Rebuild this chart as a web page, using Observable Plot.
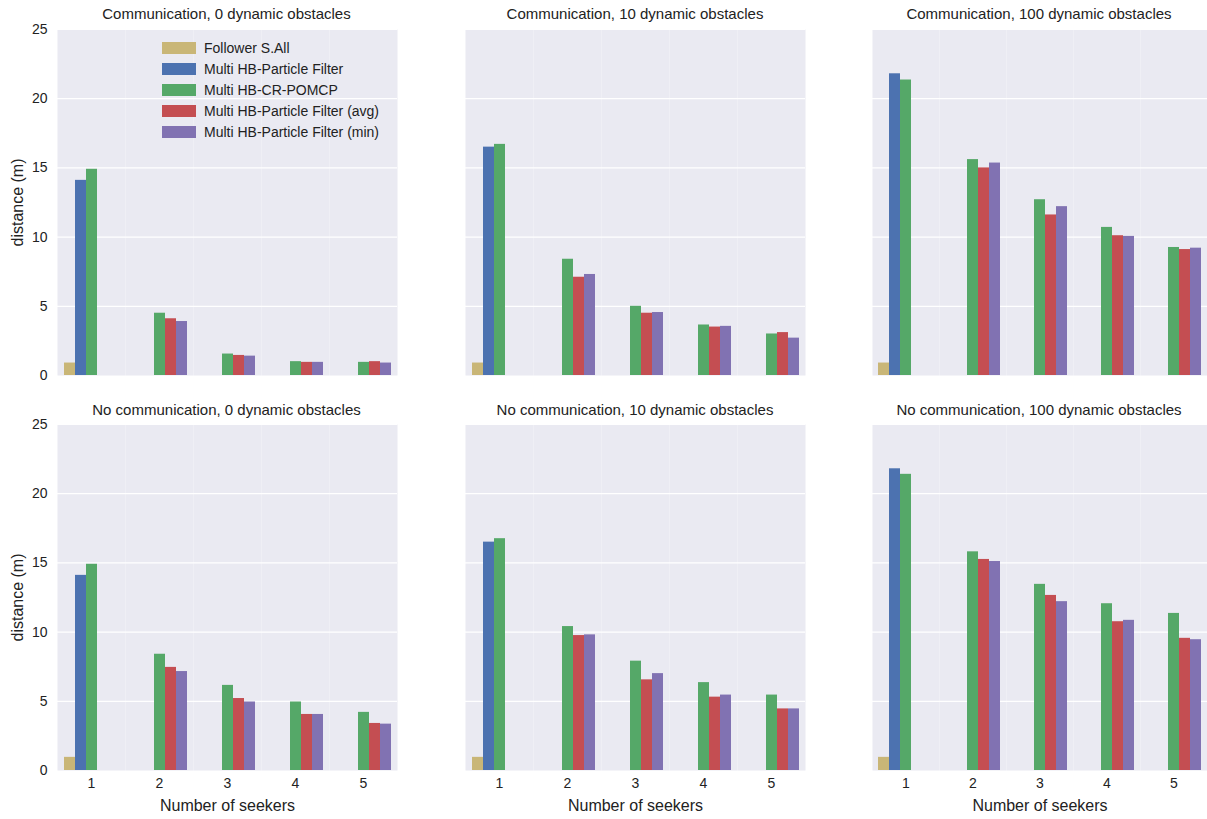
<!DOCTYPE html>
<html><head><meta charset="utf-8">
<script src="https://cdn.jsdelivr.net/npm/d3@7"></script>
<script src="https://cdn.jsdelivr.net/npm/@observablehq/plot@0.6"></script>
<style>
body{margin:0;background:#fff;font-family:"Liberation Sans",Arial,sans-serif;}
#wrap{position:relative;width:1207px;height:819px;}
.p{position:absolute;}
.p g[aria-label="fx-axis label"] text, .p g[aria-label="y-axis label"] text{font-size:16px;}
.t{position:absolute;font-size:15px;color:#222;text-align:center;white-space:nowrap;}
#legend{position:absolute;left:162px;top:37px;font-size:14px;color:#222;}
#legend div{height:21px;display:flex;align-items:center;}
#legend span{display:inline-block;width:34px;height:12px;margin-right:8px;}
</style></head><body>
<div id="wrap"></div>
<script>
const methods = ["Follower S.All","Multi HB-Particle Filter","Multi HB-CR-POMCP","Multi HB-Particle Filter (avg)","Multi HB-Particle Filter (min)"]
const colors = ["#C9B677","#4C72B0","#55A868","#C44E52","#8172B2"]
const seekers = [1,2,3,4,5]
const titles = ["Communication, 0 dynamic obstacles","Communication, 10 dynamic obstacles","Communication, 100 dynamic obstacles",
  "No communication, 0 dynamic obstacles","No communication, 10 dynamic obstacles","No communication, 100 dynamic obstacles"]
// per panel: [follower, PF, CR-POMCP, avg, min] over seekers 1..5
const comm0 = [[0.9,null,null,null,null],[14.1,null,null,null,null],[14.9,4.5,1.55,1.0,0.95],[null,4.1,1.45,0.95,1.0],[null,3.9,1.4,0.95,0.9]]
const comm10 = [[0.9,null,null,null,null],[16.5,null,null,null,null],[16.7,8.4,5.0,3.65,3.0],[null,7.1,4.5,3.5,3.1],[null,7.3,4.55,3.55,2.7]]
const comm100 = [[0.9,null,null,null,null],[21.8,null,null,null,null],[21.35,15.6,12.7,10.7,9.25],[null,15.0,11.6,10.1,9.1],[null,15.35,12.2,10.05,9.2]]
const nocomm0 = [[0.95,null,null,null,null],[14.1,null,null,null,null],[14.9,8.4,6.15,4.95,4.2],[null,7.45,5.2,4.05,3.4],[null,7.15,4.95,4.05,3.35]]
const nocomm10 = [[0.95,null,null,null,null],[16.5,null,null,null,null],[16.75,10.4,7.9,6.35,5.45],[null,9.75,6.55,5.3,4.45],[null,9.8,7.0,5.45,4.45]]
const nocomm100 = [[0.95,null,null,null,null],[21.8,null,null,null,null],[21.4,15.8,13.45,12.05,11.35],[null,15.25,12.65,10.75,9.55],[null,15.1,12.2,10.85,9.45]]
const panels = [comm0,comm10,comm100,nocomm0,nocomm10,nocomm100]

const wrap = document.getElementById("wrap")
const cols = [{left:0,ml:55,w:398},{left:403,ml:60,w:404},{left:811,ml:60,w:396}]
panels.forEach((vals,i) => {
  const c = cols[i%3], row = Math.floor(i/3)
  const rows = []
  vals.forEach((arr,m) => arr.forEach((v,s) => { if (v!=null) rows.push({seeker:seekers[s],method:methods[m],value:v}) }))
  const top = row===0 ? 0 : 400
  const mt = row===0 ? 29 : 24
  const h = row===0 ? 400 : 419
  const mb = row===0 ? 25 : 49
  const chart = Plot.plot({
    width:c.w, height:h, marginLeft:c.ml, marginRight:0, marginTop:mt, marginBottom:mb,
    style:{fontFamily:"Liberation Sans, Arial, sans-serif",fontSize:"14px",color:"#222",background:"transparent"},
    fx:{domain:seekers,padding:0,axis:row===1?"bottom":null,tickSize:0,tickPadding:8,label:"Number of seekers",labelAnchor:"center",labelOffset:40,labelArrow:"none"},
    x:{domain:methods,axis:null,paddingInner:0,paddingOuter:0.45},
    y:{domain:[0,25],ticks:[0,5,10,15,20,25],axis:i%3===0?"left":null,tickSize:0,tickPadding:10,label:"distance (m)",labelAnchor:"center",labelOffset:46,labelArrow:"none"},
    color:{domain:methods,range:colors},
    marks:[
      Plot.frame({fill:"#EAEAF2",stroke:null}),
      Plot.gridY({ticks:[5,10,15,20,25],stroke:"#fff",strokeOpacity:1,strokeWidth:1.2}),
      Plot.barY(rows,{fx:"seeker",x:"method",y:"value",fill:"method"})
    ]
  })
  chart.classList.add("p")
  chart.style.left=c.left+"px"; chart.style.top=top+"px"
  wrap.appendChild(chart)
  const t = document.createElement("div")
  t.className="t"; t.textContent=titles[i]
  const x0 = c.left+c.ml, x1 = c.left+c.w
  t.style.left=x0+"px"; t.style.width=(x1-x0)+"px"; t.style.top=(top+(row===0?5:1))+"px"
  wrap.appendChild(t)
})
const lg = document.createElement("div"); lg.id="legend"
methods.forEach((m,k)=>{ const d=document.createElement("div"); d.innerHTML=`<span style="background:${colors[k]}"></span>${m}`; lg.appendChild(d) })
wrap.appendChild(lg)
</script>
</body></html>
